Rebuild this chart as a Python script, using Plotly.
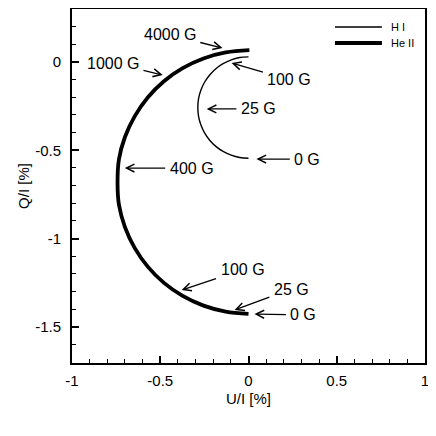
import plotly.graph_objects as go

# H I curve (thin)
hi_u = [0.0, -0.050, -0.098, -0.144, -0.185, -0.220, -0.249, -0.270, -0.283, -0.287,
        -0.283, -0.270, -0.249, -0.220, -0.185, -0.144, -0.098, -0.050, 0.0]
hi_q = [0.029, 0.025, 0.012, -0.010, -0.038, -0.074, -0.115, -0.160, -0.208, -0.258,
        -0.308, -0.356, -0.402, -0.443, -0.478, -0.507, -0.528, -0.541, -0.545]

# He II curve (thick)
he_u = [0.005, -0.129, -0.255, -0.373, -0.479, -0.571, -0.645, -0.700, -0.734, -0.742,
        -0.734, -0.700, -0.645, -0.571, -0.479, -0.373, -0.255, -0.129, 0.0]
he_q = [0.067, 0.054, 0.020, -0.035, -0.109, -0.201, -0.308, -0.425, -0.551, -0.685,
        -0.809, -0.935, -1.053, -1.159, -1.251, -1.325, -1.380, -1.414, -1.427]

# Field-strength labels: text, text position (u, q), arrow tip (u, q)
lab_text = ["4000 G", "1000 G", "100 G", "25 G", "400 G", "0 G", "100 G", "25 G", "0 G"]
lab_u = [-0.446, -0.768, 0.232, 0.056, -0.322, 0.333, -0.034, 0.243, 0.311]
lab_q = [0.153, -0.006, -0.102, -0.266, -0.601, -0.550, -1.178, -1.286, -1.433]
tip_u = [-0.147, -0.486, -0.096, -0.237, -0.701, 0.045, -0.379, -0.079, 0.034]
tip_q = [0.079, -0.074, -0.006, -0.266, -0.601, -0.550, -1.292, -1.405, -1.428]

series_names = ["H I", "He II"]

x_tickvals = [-1, -0.5, 0, 0.5, 1]
x_ticktext = ["-1", "-0.5", "0", "0.5", "1"]
y_tickvals = [-1.5, -1, -0.5, 0]
y_ticktext = ["-1.5", "-1", "-0.5", "0"]

FONT = "Liberation Sans, Arial, Helvetica, sans-serif"

fig = go.Figure()
fig.add_trace(go.Scatter(x=hi_u, y=hi_q, mode="lines", name=series_names[0],
                         line=dict(color="black", width=1.4, shape="spline"),
                         showlegend=False))
fig.add_trace(go.Scatter(x=he_u, y=he_q, mode="lines", name=series_names[1],
                         line=dict(color="black", width=3.8, shape="spline"),
                         showlegend=False))

for t, u, q, tu, tq in zip(lab_text, lab_u, lab_q, tip_u, tip_q):
    fig.add_annotation(x=tu, y=tq, ax=u, ay=q, axref="x", ayref="y",
                       text=t, showarrow=True, arrowhead=5, arrowsize=1.2,
                       arrowwidth=1.3, arrowcolor="black", borderpad=4,
                       font=dict(family=FONT, size=16, color="black"))

# manual legend (top right)
leg_y = [0.949, 0.904]
leg_w = [1.4, 3.8]
for name, yy, w in zip(series_names, leg_y, leg_w):
    fig.add_shape(type="line", xref="paper", yref="paper",
                  x0=0.745, x1=0.878, y0=yy, y1=yy,
                  line=dict(color="black", width=w))
    fig.add_annotation(xref="paper", yref="paper", x=0.898, y=yy, text=name,
                       showarrow=False, xanchor="left", yanchor="middle",
                       font=dict(family=FONT, size=11, color="black"))

axis_common = dict(
    showline=True, linecolor="black", linewidth=2, mirror=True,
    ticks="inside", ticklen=7, tickwidth=1.5, tickcolor="black",
    showgrid=False, zeroline=False, automargin=False,
    tickfont=dict(family=FONT, size=15, color="black"),
    minor=dict(ticks="inside", ticklen=4, tickwidth=1, tickcolor="black",
               dtick=0.1, tick0=0, showgrid=False),
)

fig.update_xaxes(range=[-1, 1], tickmode="array", tickvals=x_tickvals, ticktext=x_ticktext,
                 title=dict(text="U/I [%]", font=dict(family=FONT, size=15, color="black"),
                            standoff=5),
                 ticklabelstandoff=3, **axis_common)
fig.update_yaxes(range=[-1.705, 0.30], tickmode="array", tickvals=y_tickvals, ticktext=y_ticktext,
                 title=dict(text="Q/I [%]", font=dict(family=FONT, size=15, color="black"),
                            standoff=2),
                 ticklabelstandoff=6, **axis_common)

# the page body has an 8px margin; size the figure so the plot area lands
# at the same window position as the reference
fig.update_layout(width=428, height=428,
                  margin=dict(l=64, r=11, t=1, b=73),
                  plot_bgcolor="white", paper_bgcolor="white",
                  font=dict(family=FONT, color="black"))

fig.write_html("out.html")
